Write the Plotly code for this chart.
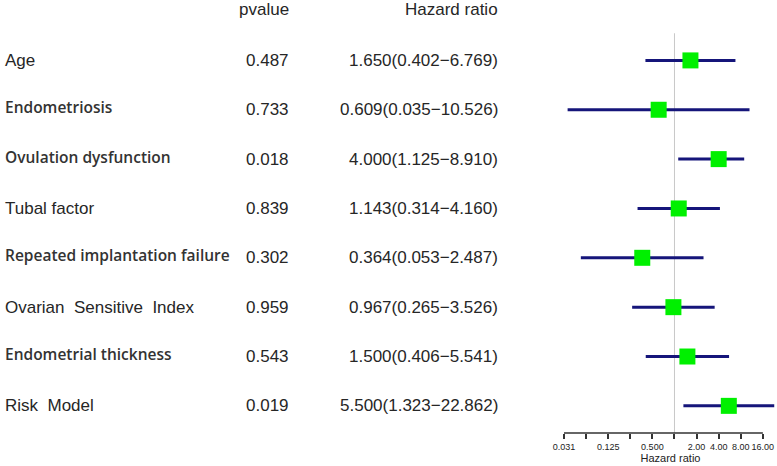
import plotly.graph_objects as go

# forest plot of hazard ratios
variables = [
    "Age",
    "Endometriosis",
    "Ovulation dysfunction",
    "Tubal factor",
    "Repeated implantation failure",
    "Ovarian\u00a0\u00a0Sensitive\u00a0\u00a0Index",
    "Endometrial thickness",
    "Risk\u00a0\u00a0Model",
]
bold_label = [False, True, True, False, True, False, True, False]
pvalues = ["0.487", "0.733", "0.018", "0.839", "0.302", "0.959", "0.543", "0.019"]
hr = [1.650, 0.609, 4.000, 1.143, 0.364, 0.967, 1.500, 5.500]
hr_low = [0.402, 0.035, 1.125, 0.314, 0.053, 0.265, 0.406, 1.323]
hr_high = [6.769, 10.526, 8.910, 4.160, 2.487, 3.526, 5.541, 22.862]
tick_vals = [2 ** k for k in range(-5, 5)]
tick_text = ["0.031", "", "0.125", "", "0.500", "", "2.00", "4.00", "8.00", "16.00"]

W, H = 777, 466
rows = list(range(len(variables)))

fig = go.Figure()
fig.add_scatter(
    x=hr,
    y=rows,
    mode="markers",
    marker=dict(symbol="square", size=16, color="#00f000", line_width=0),
    error_x=dict(
        type="data",
        symmetric=False,
        array=[h - m for h, m in zip(hr_high, hr)],
        arrayminus=[m - l for m, l in zip(hr, hr_low)],
        color="#15157a",
        thickness=3,
        width=0,
    ),
    showlegend=False,
)

# reference line at HR = 1
fig.add_shape(
    type="line", xref="x", yref="y", x0=1, x1=1, y0=-0.55, y1=7.55,
    line=dict(color="#c8c8c8", width=1), layer="below",
)
# axis line only across the tick span
fig.add_shape(
    type="line", xref="x", yref="y domain", x0=tick_vals[0], x1=tick_vals[-1],
    y0=0, y1=0, line=dict(color="#333", width=1.5),
)

def px(x):
    return x / W

plain = dict(family="Liberation Sans, Arial", size=17, color="#262626")
heavy = dict(family="Open Sans", size=15.5, color="#333", weight=600)

for i, name in enumerate(variables):
    fig.add_annotation(
        x=px(3), y=i - (0.05 if bold_label[i] else 0), xref="paper", yref="y",
        text=name, showarrow=False, xanchor="left", yanchor="middle",
        font=heavy if bold_label[i] else plain,
    )
    fig.add_annotation(
        x=px(291), y=i, xref="paper", yref="y", text=pvalues[i],
        showarrow=False, xanchor="right", yanchor="middle", font=plain,
    )
    fig.add_annotation(
        x=px(500), y=i, xref="paper", yref="y",
        text=f"{hr[i]:.3f}({hr_low[i]:.3f}\u2212{hr_high[i]:.3f})",
        showarrow=False, xanchor="right", yanchor="middle", font=plain,
    )

fig.add_annotation(
    x=px(291), y=1 - 9 / H, xref="paper", yref="paper", text="pvalue",
    showarrow=False, xanchor="right", yanchor="middle", font=plain,
)
fig.add_annotation(
    x=px(500), y=1 - 9 / H, xref="paper", yref="paper", text="Hazard ratio",
    showarrow=False, xanchor="right", yanchor="middle", font=plain,
)

fig.update_layout(
    width=W,
    height=H,
    margin=dict(l=0, r=0, t=0, b=0),
    paper_bgcolor="white",
    plot_bgcolor="white",
    xaxis=dict(
        type="log",
        domain=[564 / W, 1],
        range=[-5 * 0.30103, 4.64 * 0.30103],
        tickvals=tick_vals,
        ticktext=tick_text,
        ticks="outside",
        ticklen=5,
        tickwidth=1.5,
        tickcolor="#333",
        tickfont=dict(family="Liberation Sans, Arial", size=9, color="#222"),
        showgrid=False,
        showline=False,
        zeroline=False,
        automargin=False,
        title=dict(
            text="Hazard ratio",
            font=dict(family="Liberation Sans, Arial", size=11, color="#222"),
            standoff=2,
        ),
    ),
    yaxis=dict(
        domain=[33 / H, 1 - 16 / H],
        range=[7.55, -0.9],
        visible=False,
        automargin=False,
    ),
)

fig.write_html(
    "out.html",
    config={"displayModeBar": False},
    post_script="document.body.style.margin = '0';",
)
